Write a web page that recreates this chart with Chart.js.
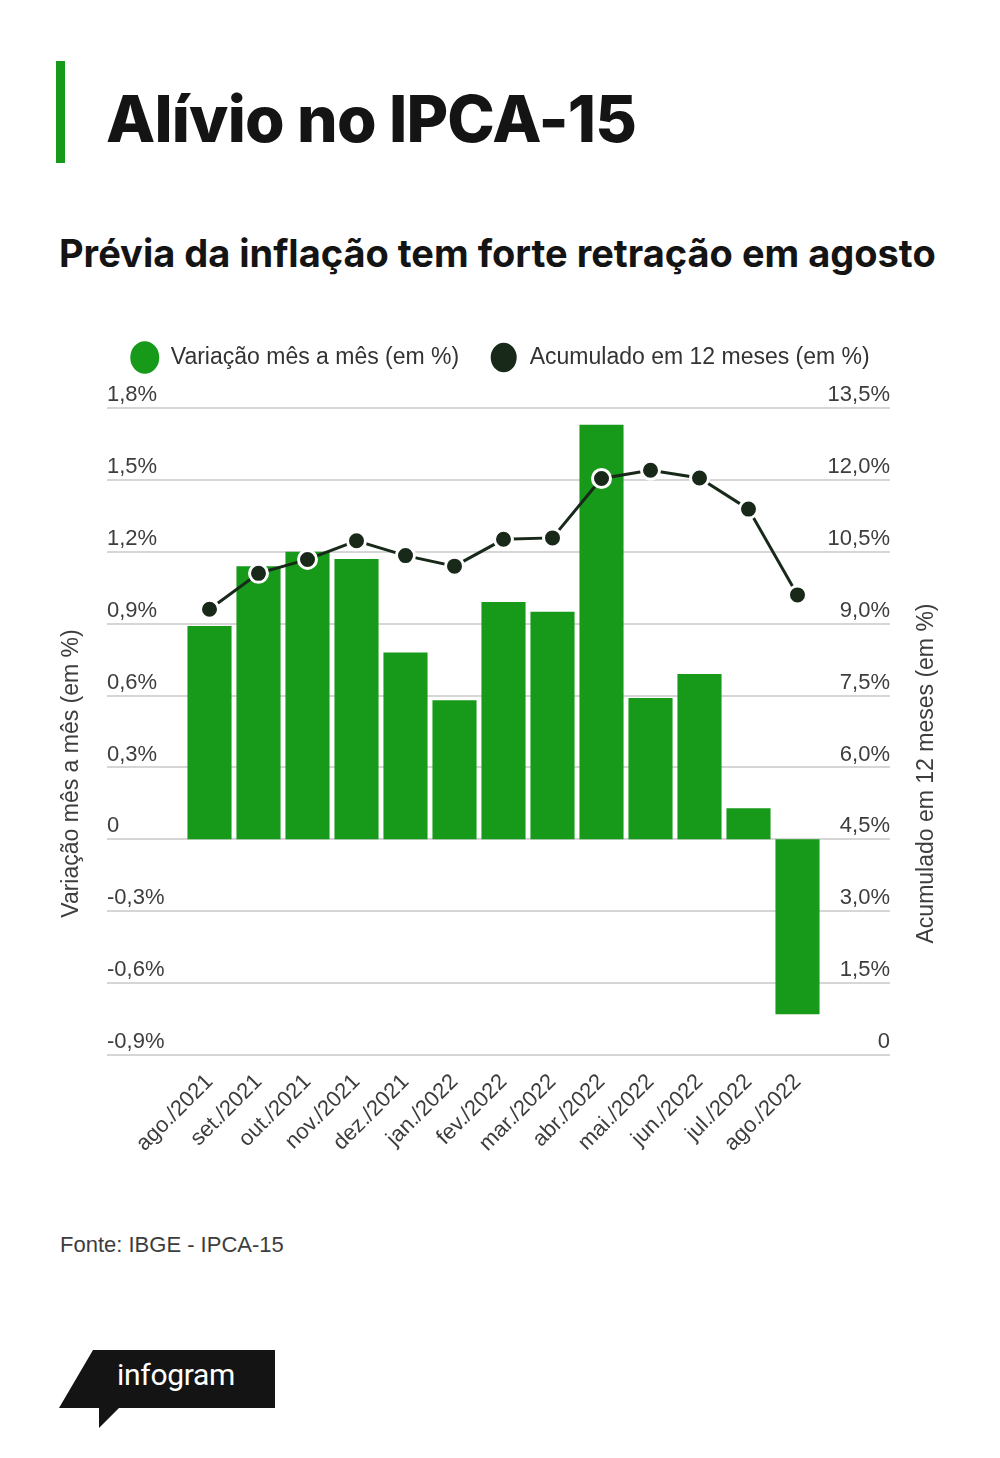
<!DOCTYPE html>
<html lang="pt-BR">
<head>
<meta charset="utf-8">
<title>Alívio no IPCA-15</title>
<script src="https://cdn.jsdelivr.net/npm/chart.js@4.4.1/dist/chart.umd.min.js"></script>
<style>
  html,body{margin:0;padding:0;background:#fff;}
  body{width:1000px;height:1458px;position:relative;overflow:hidden;font-family:"Liberation Sans",Arial,sans-serif;color:#111;}
  .barra{position:absolute;left:56px;top:61px;width:9px;height:102px;background:#17991a;}
  h1{position:absolute;left:106px;top:87px;margin:0;font:800 64px/1 Inter,sans-serif;letter-spacing:-0.8px;color:#141414;white-space:nowrap;}
  h2{position:absolute;left:59px;top:234px;margin:0;font:700 38px/1 Inter,sans-serif;letter-spacing:0;color:#141414;white-space:nowrap;}
  #grafico{position:absolute;left:0;top:316px;width:1000px;height:864px;}
  .fonte{position:absolute;left:60px;top:1234px;font:22px/1 "Liberation Sans",sans-serif;color:#3d3d3d;}
  .logo{position:absolute;left:59px;top:1350px;width:216px;height:78px;background:#141414;
        clip-path:polygon(34px 0,216px 0,216px 58px,60px 58px,40px 78px,40px 58px,0 58px);}
  .logo span{position:absolute;left:58px;top:10px;font:30px/1 Roboto,sans-serif;color:#fff;letter-spacing:-0.3px;}
</style>
</head>
<body>
<div class="barra"></div>
<h1>Alívio no IPCA-15</h1>
<h2>Prévia da inflação tem forte retração em agosto</h2>
<div id="grafico"><canvas id="chart-ipca"></canvas></div>
<div class="fonte">Fonte: IBGE - IPCA-15</div>
<div class="logo"><span>infogram</span></div>

<script>
// Dados (IBGE - IPCA-15)
const meses = ["ago./2021","set./2021","out./2021","nov./2021","dez./2021","jan./2022","fev./2022",
               "mar./2022","abr./2022","mai./2022","jun./2022","jul./2022","ago./2022"];
const variacaoMensal = [0.89, 1.14, 1.20, 1.17, 0.78, 0.58, 0.99, 0.95, 1.73, 0.59, 0.69, 0.13, -0.73];
const acumulado12m  = [9.30, 10.05, 10.34, 10.73, 10.42, 10.20, 10.76, 10.79, 12.03, 12.20, 12.04, 11.39, 9.60];

const tituloEsq = "Variação mês a mês (em %)";
const tituloDir = "Acumulado em 12 meses (em %)";

const VERDE = "#17991a", ESCURO = "#18291a", TEXTO = "#3d3d3d", GRADE = "#d6d6d6";
const FONTE = '"Liberation Sans", Arial, sans-serif';

function pct(v){
  if (Math.abs(v) < 1e-9) return "0";
  return v.toFixed(1).replace(".", ",") + "%";
}

// títulos dos eixos lidos de baixo para cima (o eixo direito do Chart.js lê de cima para baixo)
const titulosEixos = {
  id:"titulosEixos",
  beforeInit(chart){
    // espaço entre a legenda e o topo da área do gráfico
    const fit = chart.legend.fit;
    chart.legend.fit = function(){ fit.call(this); this.height += 29; };
  },
  afterDraw(chart){
    const {ctx, chartArea, scales} = chart;
    const cy = (chartArea.top + chartArea.bottom) / 2 + 42;
    ctx.save();
    ctx.font = `23px ${FONTE}`;
    ctx.fillStyle = TEXTO;
    ctx.textAlign = "center"; ctx.textBaseline = "middle";
    [[scales.y.left + 17, tituloEsq], [scales.y2.right - 18, tituloDir]].forEach(([x, t]) => {
      ctx.save(); ctx.translate(x, cy); ctx.rotate(-Math.PI/2); ctx.fillText(t, 0, 0); ctx.restore();
    });
    ctx.restore();
  }
};

Chart.defaults.font.family = FONTE;
Chart.defaults.color = TEXTO;

new Chart(document.getElementById("chart-ipca"), {
  data:{
    labels: meses,
    datasets:[
      {
        type:"bar", label:tituloEsq, data:variacaoMensal, yAxisID:"y",
        backgroundColor:VERDE, borderWidth:0,
        barPercentage:0.9, categoryPercentage:1, order:1,
      },
      {
        type:"line", label:tituloDir, data:acumulado12m, yAxisID:"y2",
        borderColor:ESCURO, backgroundColor:ESCURO, borderWidth:3, tension:0, fill:false,
        pointRadius:9, pointBackgroundColor:ESCURO, pointBorderColor:"#fff", pointBorderWidth:3,
        order:0,
      },
    ],
  },
  options:{
    responsive:true, maintainAspectRatio:false, animation:false,
    layout:{padding:{left:55, right:55, top:0, bottom:15}},
    plugins:{
      tooltip:{enabled:false},
      legend:{
        position:"top",
        labels:{
          usePointStyle:true, pointStyle:"circle", pointStyleWidth:29, padding:30,
          font:{size:23}, color:"#333",
          sort:(a,b) => a.datasetIndex - b.datasetIndex,
        },
      },
    },
    scales:{
      x:{
        offset:true, grid:{display:false}, border:{display:false},
        ticks:{minRotation:45, maxRotation:45, autoSkip:false, padding:6, font:{size:22}, color:TEXTO},
        afterFit(s){ s.height = 110; },
      },
      y:{
        position:"left", min:-0.9, max:1.8, border:{display:false},
        grid:{color:GRADE, lineWidth:2, tickLength:78, tickColor:GRADE},
        ticks:{stepSize:0.3, mirror:true, padding:-78, labelOffset:-13, font:{size:22}, color:TEXTO, callback:pct},
        afterFit(s){ s.width = 130; },
      },
      y2:{
        position:"right", min:0, max:13.5, border:{display:false},
        grid:{drawOnChartArea:false, color:GRADE, lineWidth:2, tickLength:68, tickColor:GRADE},
        ticks:{stepSize:1.5, mirror:true, padding:68, labelOffset:-13, font:{size:22}, color:TEXTO, callback:pct},
        afterFit(s){ s.width = 123; },
      },
    },
  },
  plugins:[titulosEixos],
});
</script>
</body>
</html>
